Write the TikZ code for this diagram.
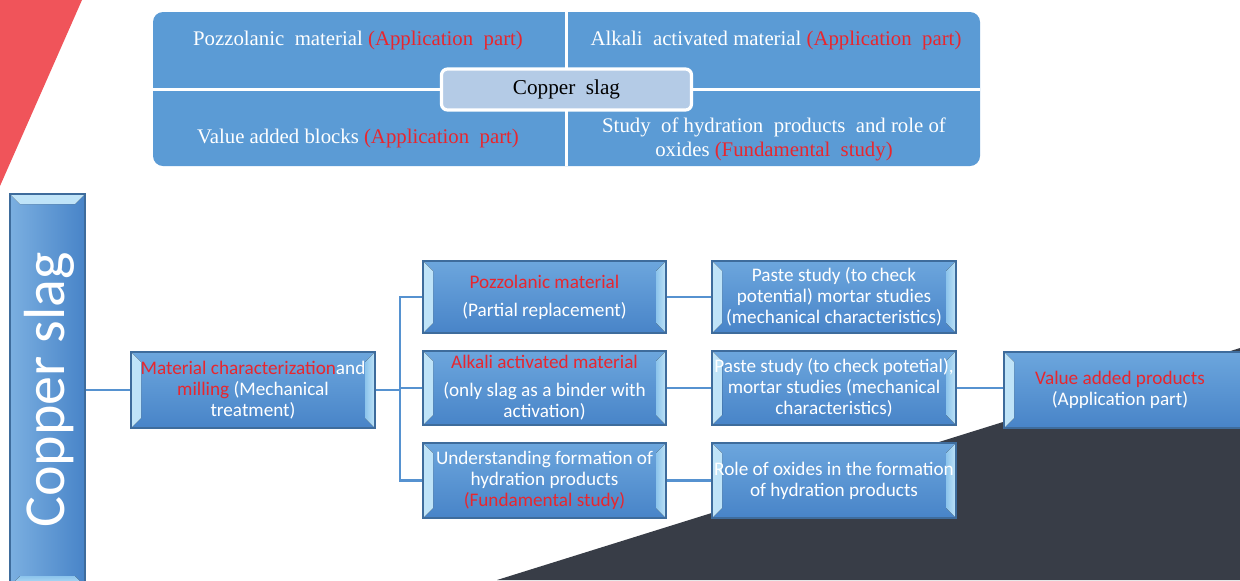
\documentclass[tikz,border=0pt]{standalone}
\usepackage{fontspec}
\setmainfont{Carlito}
\newfontfamily\serifface{Liberation Serif}
\usetikzlibrary{calc}
\definecolor{topblue}{RGB}{91,155,213}
\definecolor{boxtop}{RGB}{108,166,221}
\definecolor{boxbot}{RGB}{72,132,200}
\definecolor{boxborder}{RGB}{62,108,156}
\definecolor{bevlight}{RGB}{192,228,248}
\definecolor{bevmid}{RGB}{140,196,236}
\definecolor{lineblue}{RGB}{86,146,208}
\definecolor{redtxt}{RGB}{232,38,46}
\definecolor{centerfill}{RGB}{180,203,230}
\definecolor{redtri}{RGB}{240,84,90}
\definecolor{darkbg}{RGB}{56,61,71}
\tikzset{
  bevbox/.style={draw=boxborder, line width=0.6pt, top color=boxtop, bottom color=boxbot,
    text=white, align=center, inner sep=0pt,
    font=\fontsize{9.6}{10.5}\selectfont,
    path picture={
      \fill[left color=bevlight, right color=bevmid] (path picture bounding box.north west) -- ++(5pt,-5pt)
        -- ([xshift=5pt,yshift=5pt]path picture bounding box.south west) -- (path picture bounding box.south west) -- cycle;
      \fill[left color=bevmid, right color=bevlight] (path picture bounding box.north east) -- ++(-5pt,-5pt)
        -- ([xshift=-5pt,yshift=5pt]path picture bounding box.south east) -- (path picture bounding box.south east) -- cycle;
    }},
  bevbar/.style={draw=boxborder, line width=0.6pt, left color=boxtop!90!white, right color=boxbot,
    text=white, inner sep=0pt,
    path picture={
      \fill[top color=bevlight, bottom color=bevmid] (path picture bounding box.north west) -- ++(5pt,-5pt)
        -- ([xshift=-5pt,yshift=-5pt]path picture bounding box.north east) -- (path picture bounding box.north east) -- cycle;
      \fill[top color=bevmid, bottom color=bevlight] (path picture bounding box.south west) -- ++(5pt,5pt)
        -- ([xshift=-5pt,yshift=5pt]path picture bounding box.south east) -- (path picture bounding box.south east) -- cycle;
    }},
  conn/.style={draw=lineblue, line width=1.2pt},
  quad/.style={text=white, align=center, font=\serifface\fontsize{10.4}{12}\selectfont, inner sep=0pt},
  rd/.style={text=redtxt}
}
\newcommand{\rt}[1]{\textcolor{redtxt}{#1}}
\begin{document}
\begin{tikzpicture}[x=0.5pt,y=-0.5pt]
\useasboundingbox (0,0) rectangle (1240,580);
\clip (0,0) rectangle (1240,580);
% background shapes
\fill[redtri] (0,0) -- (82,0) -- (0,186) -- cycle;
\fill[darkbg] (497,580) -- (1240,348) -- (1240,580) -- cycle;
% top summary block
\node[fill=topblue, rounded corners=5pt, minimum width=413.5pt, minimum height=77pt, inner sep=0pt] (topbox) at (566.5,89) {};
\draw[white, line width=1.5pt] (topbox.north -| 566,0) -- (topbox.south -| 566,0);
\draw[white, line width=1.5pt] (topbox.west) -- (topbox.east);
\node[quad] (q1) at (358,40) {Pozzolanic\ \ material \rt{(Application\ \ part)}};
\node[quad] (q2) at (776,40) {Alkali\ \ activated material \rt{(Application\ \ part)}};
\node[quad] (q3) at (358,138) {Value added blocks \rt{(Application\ \ part)}};
\node[quad] (q4) at (774,139) {Study\ \ of hydration\ \ products\ \ and role of\\ oxides \rt{(Fundamental\ \ study)}};
\node[draw=white, line width=1.6pt, fill=centerfill, rounded corners=3pt, minimum width=125pt, minimum height=20.5pt, inner sep=0pt, font=\serifface\fontsize{10.6}{12}\selectfont] (center) at (566.5,89.5) {Copper\ \ slag};
% flow boxes
\node[bevbar, minimum width=37.5pt, minimum height=196pt] (slag) at (47.5,390) {};
\node[text=white, rotate=90, font=\fontsize{29}{30}\selectfont, inner sep=0pt] (slagtxt) at (49,390) {Copper slag};
\node[bevbox, minimum width=122pt, minimum height=38pt] (mat) at (253,390)
  {\rt{Material characterization}and\\ \rt{milling} (Mechanical\\ treatment)};
\node[bevbox, minimum width=121.5pt, minimum height=36pt] (p1) at (544.5,297)
  {\rt{Pozzolanic material}\\[3.5pt](Partial replacement)};
\node[bevbox, minimum width=121.5pt, minimum height=37pt] (a1) at (544.5,388)
  {\rt{Alkali activated material}\\[3.5pt](only slag as a binder with\\ activation)};
\node[bevbox, minimum width=121.5pt, minimum height=37.5pt] (u1) at (544.5,480.5)
  {Understanding formation of\\ hydration products\\ \rt{(Fundamental study)}};
\node[bevbox, minimum width=122pt, minimum height=36pt] (p2) at (834,297)
  {Paste study (to check\\ potential) mortar studies\\ (mechanical characteristics)};
\node[bevbox, minimum width=122pt, minimum height=37pt] (a2) at (834,388)
  {Paste study (to check potetial),\\ mortar studies (mechanical\\ characteristics)};
\node[bevbox, minimum width=122pt, minimum height=37.5pt] (r2) at (834,480.5)
  {Role of oxides in the formation\\ of hydration products};
\node[bevbox, minimum width=124pt, minimum height=38pt] (val) at (1128,390)
  {\hspace*{-8pt}\rt{Value added products}\\ \hspace*{-8pt}(Application part)};
% connectors
\coordinate (j) at (400,390);
\draw[conn] (slag.east |- mat.west) -- (mat.west);
\draw[conn] (mat.east) -- (j);
\draw[conn] (p1.west) -| (j);
\draw[conn] (u1.west) -| (j);
\draw[conn] (a1.west) -- (a1.west -| j);
\draw[conn] (p1.east) -- (p2.west);
\draw[conn] (a1.east) -- (a2.west);
\draw[conn] (u1.east) -- (r2.west);
\draw[conn] (a2.east) -- (a2.east -| val.west);
\end{tikzpicture}
\end{document}
